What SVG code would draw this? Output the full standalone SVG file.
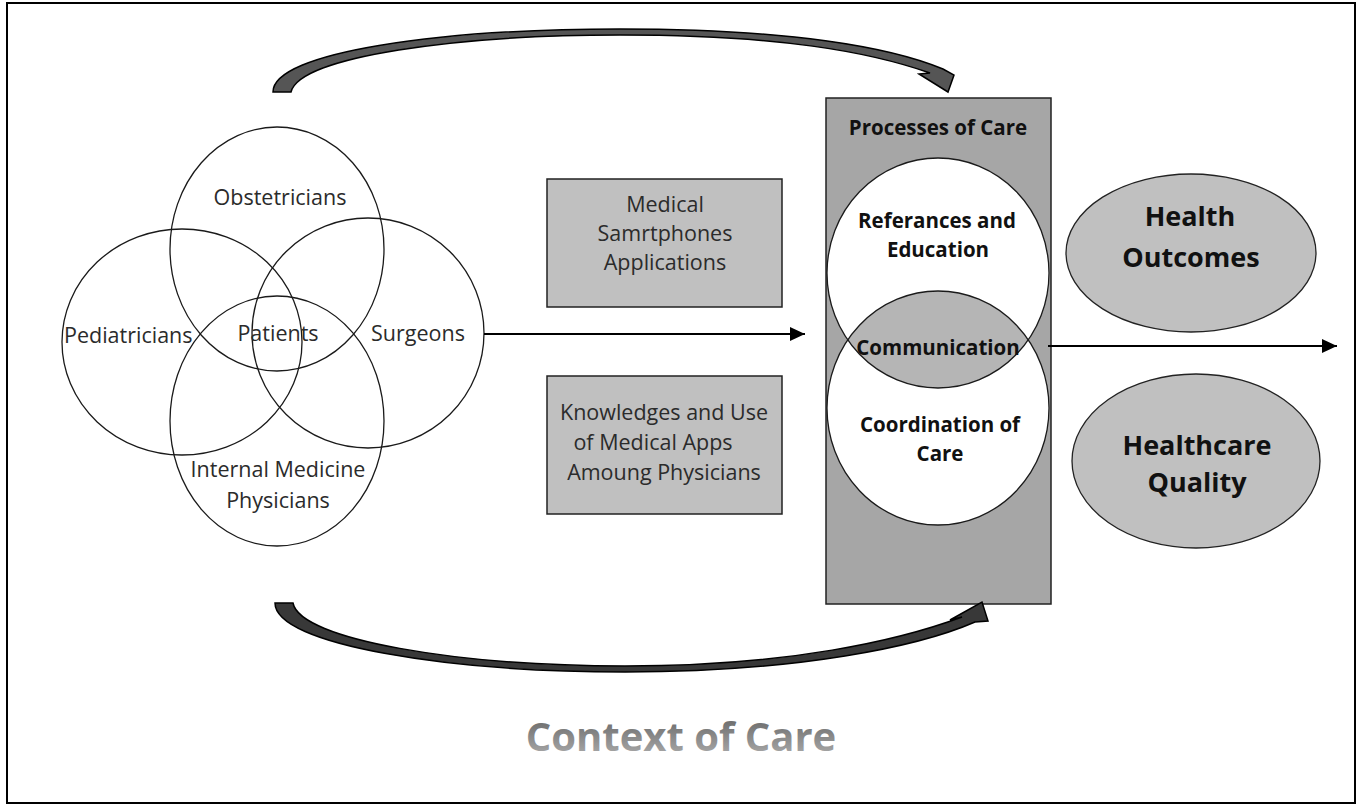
<svg xmlns="http://www.w3.org/2000/svg" width="1358" height="806" viewBox="0 0 1358 806">
<style>
.venn{fill:none;stroke:#1a1a1a;stroke-width:1.3}
.reg{font-family:"Open Sans","Liberation Sans",sans-serif;font-size:21.5px;fill:#2b2b2b;text-anchor:middle}
.bold{font-family:"Open Sans","Liberation Sans",sans-serif;font-weight:bold;fill:#111;text-anchor:middle}
.box{fill:#c0c0c0;stroke:#222;stroke-width:1.5}
.conn{stroke:#000;stroke-width:2;fill:none}
.curve{stroke:#000;stroke-width:1.5;stroke-linejoin:miter}
</style>
<defs>
<marker id="ah" viewBox="0 0 10 10" refX="10" refY="5" markerWidth="15" markerHeight="14" markerUnits="userSpaceOnUse" orient="auto" preserveAspectRatio="none">
<path d="M0,0 L10,5 L0,10 Z" fill="#000"/>
</marker>
<linearGradient id="ctxg" x1="0" y1="0" x2="0" y2="1">
<stop offset="0" stop-color="#5a5a5a"/>
<stop offset="1" stop-color="#b5b5b5"/>
</linearGradient>
<clipPath id="upclip"><ellipse cx="938" cy="273" rx="111" ry="115"/></clipPath>
</defs>
<rect x="0" y="0" width="1358" height="806" fill="#fff"/>
<rect x="7" y="3" width="1348" height="800" fill="none" stroke="#000" stroke-width="2"/>

<g id="venn">
<ellipse class="venn" cx="277" cy="249" rx="107" ry="122"/>
<ellipse class="venn" cx="182" cy="342" rx="120" ry="113"/>
<ellipse class="venn" cx="368" cy="333" rx="116" ry="115"/>
<ellipse class="venn" cx="277" cy="421" rx="107" ry="125"/>
<text class="reg" x="280" y="205">Obstetricians</text>
<text class="reg" x="64" y="343" style="text-anchor:start">Pediatricians</text>
<text class="reg" x="278" y="341">Patients</text>
<text class="reg" x="418" y="341">Surgeons</text>
<text class="reg" x="278" y="477">Internal Medicine</text>
<text class="reg" x="278" y="508">Physicians</text>
</g>

<g id="apps">
<rect class="box" x="547" y="179" width="235" height="128"/>
<text class="reg" x="665" y="212">Medical</text>
<text class="reg" x="665" y="241">Samrtphones</text>
<text class="reg" x="665" y="270">Applications</text>
</g>

<g id="knowledge">
<rect class="box" x="547" y="376" width="235" height="138"/>
<text class="reg" x="664" y="420">Knowledges and Use</text>
<text class="reg" x="653" y="450">of Medical Apps</text>
<text class="reg" x="664" y="480">Amoung Physicians</text>
</g>

<g id="processes">
<rect x="826" y="98" width="225" height="506" fill="#a6a6a6" stroke="#222" stroke-width="1.5"/>
<text class="bold" x="938" y="135" font-size="20.5">Processes of Care</text>
<ellipse cx="938" cy="273" rx="111" ry="115" fill="#fff"/>
<ellipse cx="938" cy="408" rx="111" ry="117" fill="#fff"/>
<ellipse cx="938" cy="408" rx="111" ry="117" fill="#b5b5b5" clip-path="url(#upclip)"/>
<ellipse class="venn" cx="938" cy="273" rx="111" ry="115"/>
<ellipse class="venn" cx="938" cy="408" rx="111" ry="117"/>
<text class="bold" x="937" y="228" font-size="20.5">Referances and</text>
<text class="bold" x="938" y="257" font-size="20.5">Education</text>
<text class="bold" x="938" y="355" font-size="20.5">Communication</text>
<text class="bold" x="940" y="432" font-size="20.5">Coordination of</text>
<text class="bold" x="940" y="461" font-size="20.5">Care</text>
</g>

<g id="health-outcomes">
<ellipse cx="1191" cy="253" rx="125" ry="79" fill="#c0c0c0" stroke="#222" stroke-width="1.3"/>
<text class="bold" x="1190" y="226" font-size="27">Health</text>
<text class="bold" x="1191" y="267" font-size="27">Outcomes</text>
</g>

<g id="healthcare-quality">
<ellipse cx="1196" cy="461" rx="124" ry="87" fill="#c0c0c0" stroke="#222" stroke-width="1.3"/>
<text class="bold" x="1197" y="455" font-size="27">Healthcare</text>
<text class="bold" x="1197" y="492" font-size="27">Quality</text>
</g>

<g id="context">
<text x="681" y="751" font-family="'Open Sans','Liberation Sans',sans-serif" font-weight="bold" font-size="40" fill="url(#ctxg)" text-anchor="middle">Context of Care</text>
</g>

<g id="connectors">
<line class="conn" x1="484" y1="334" x2="805" y2="334" marker-end="url(#ah)"/>
<line class="conn" x1="1048" y1="346" x2="1337" y2="346" marker-end="url(#ah)"/>
<path class="curve" fill="#555" d="M273,92 C273,52 440,29 620,29 C790,29 890,47 943,69 L954,75 L948,92 L919,74 L930,73 C870,52 780,35 620,35 C460,35 300,56 291,92 Z"/>
<path class="curve" fill="#383838" d="M275,603 C275,645 450,672 625,672 C800,672 920,646 975,622 L988,621 L982,602 L950,620 L962,617 C900,640 790,666 625,666 C460,666 300,640 293,603 Z"/>
</g>
</svg>
